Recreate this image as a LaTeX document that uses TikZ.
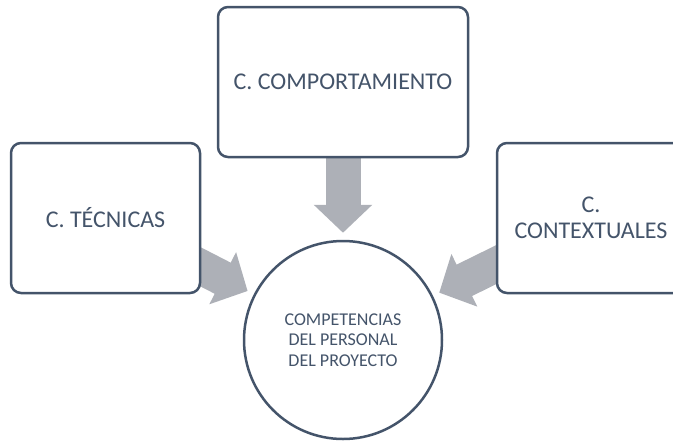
\documentclass[tikz,border=0pt]{standalone}
\usepackage{fontspec}
\setmainfont{Carlito}
\usetikzlibrary{arrows.meta,backgrounds}
\definecolor{slate}{HTML}{44546A}
\definecolor{arrowgray}{HTML}{ADB0B7}

\begin{document}
\begin{tikzpicture}[x=1pt,y=-1pt,
	box/.style={draw=slate, line width=2.5pt, rounded corners=10pt, fill=white, text=slate,
		align=center, minimum height=\boxh, font=\fontsize{24}{25.5}\selectfont},
	flow/.style={draw=arrowgray, line width=35pt, -{Triangle[length=28pt,width=57pt]}, shorten >=7pt}]

\def \boxh {150pt}
\def \radius {99pt} % circle in the middle

\useasboundingbox (0,0) rectangle (673,440);
\clip (0,0) rectangle (673,440);

\node[box, minimum width=189pt] (tec) at (105.5,218) {C. TÉCNICAS};
\node[box, minimum width=250pt] (beh) at (343,82) {C. COMPORTAMIENTO};
\node[box, minimum width=188pt] (ctx) at (591,218) {C.\\CONTEXTUALES};
\node[draw=slate, line width=2.5pt, circle, fill=white, text=slate, align=center,
	minimum size=2*\radius, font=\fontsize{18}{20.5}\selectfont] (comp) at (343,340)
	{COMPETENCIAS\\DEL PERSONAL\\DEL PROYECTO};

\begin{scope}[on background layer]
\foreach \src in {tec,beh,ctx}
	\draw[flow] (\src.center) -- (comp);
\end{scope}
\end{tikzpicture}
\end{document}
